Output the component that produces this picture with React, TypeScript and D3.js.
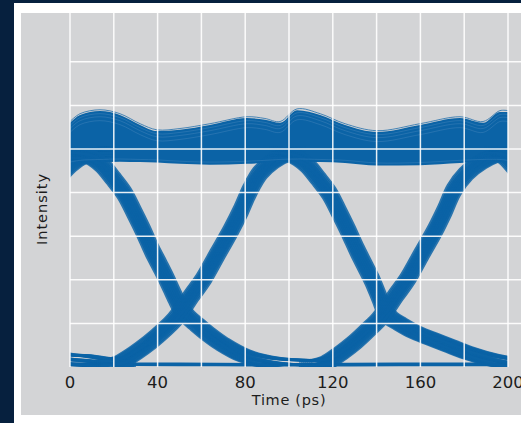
import * as d3 from "d3";
import React, { useEffect, useRef } from "react";

// axis
const timeTicks = [0, 20, 40, 60, 80, 100, 120, 140, 160, 180, 200];
const timeLabels = [0, 40, 80, 120, 160, 200];
const levelLines = [1, 2, 3, 4, 5, 6, 7];

// "1" level rail envelope (ps, grid units)
const railTime = [0, 4.6, 13.7, 22.8, 32, 39.7, 50.2, 63.9, 80.8, 89, 95.9, 103.7, 114.2, 125.6, 140.2, 159.8, 178.1, 188.6, 196.3, 200];
const railTop = [5.6, 5.78, 5.87, 5.78, 5.55, 5.41, 5.44, 5.55, 5.71, 5.67, 5.6, 5.89, 5.78, 5.55, 5.39, 5.55, 5.71, 5.6, 5.85, 5.85];
const railBottom = [4.64, 4.68, 4.7, 4.71, 4.7, 4.69, 4.66, 4.64, 4.66, 4.68, 4.7, 4.71, 4.7, 4.68, 4.62, 4.63, 4.68, 4.7, 4.7, 4.68];

// "0" level rail
const zeroRail = [[0, 0.07], [50, 0.06], [100, 0.05], [150, 0.06], [200, 0.06]];

// transition centre lines
const fall0 = [[-13.7, 0.39], [-6.8, 0.25], [0, 0.17], [6.8, 0.15], [13.7, 0.1], [20.5, 0.06], [27.4, 0.02]];
const rise0 = [[-10, 4.06], [-6.4, 4.29], [-3.2, 4.47], [0, 4.63], [4.6, 4.79], [11.4, 4.89], [18.3, 4.91]];
const fall1 = [[0, 4.91], [8.2, 4.84], [14.6, 4.63], [19.6, 4.33], [24.7, 3.99], [29.2, 3.56], [33.3, 3.14], [37.4, 2.68], [41.1, 2.32], [44.3, 2.0], [47.9, 1.61], [51.1, 1.31], [53.9, 1.15], [57.5, 0.99], [63, 0.76], [69.4, 0.53], [79.9, 0.25], [93.6, 0.09], [105, 0.05], [118.7, 0.02]];
const rise1 = [[11.4, 0.02], [18.3, 0.05], [22.8, 0.11], [29.7, 0.32], [36.5, 0.57], [43.4, 0.87], [47.9, 1.1], [51.1, 1.31], [55.7, 1.65], [60.7, 2.0], [67.1, 2.57], [73.5, 3.14], [78.1, 3.6], [82.2, 4.06], [86.8, 4.45], [92.2, 4.7], [98.2, 4.86], [105, 4.91]];
const fall2 = [[93.6, 4.91], [101.8, 4.84], [108.2, 4.63], [113.2, 4.33], [118.3, 3.99], [122.8, 3.56], [126.9, 3.14], [131.1, 2.68], [134.7, 2.32], [137.9, 2.0], [141.1, 1.61], [143.8, 1.28], [146.6, 1.12], [150.7, 0.99], [157.5, 0.8], [165.3, 0.64], [173.5, 0.48], [180.8, 0.34], [193.2, 0.16], [203.2, 0.07]];
const rise2 = [[107.3, 0.02], [113.2, 0.05], [117.4, 0.11], [123.7, 0.32], [130.1, 0.57], [136.5, 0.87], [141.1, 1.1], [144.3, 1.31], [148.9, 1.65], [153.9, 2.0], [160.3, 2.57], [166.7, 3.14], [171.2, 3.6], [175.3, 4.06], [180.8, 4.43], [187.2, 4.68], [193.6, 4.84], [200, 4.91], [206, 4.91]];
const fall3 = [[191.8, 4.91], [197.7, 4.84], [202.7, 4.59], [206.4, 4.33]];

// spread of the overlaid traces
const timeJitter = [-2.7, -1.8, -0.9, 0, 0.9, 1.8, 2.7];
const ampNoise = [-0.11, 0, 0.11];
const innerStreaks = [0.06, 0.13, 0.22];
const bottomStreaks = [0.06];

const BLUE = "#0b63a6";

export default function App() {
  const ref = useRef(null);

  useEffect(() => {
    const svg = d3.select(ref.current);
    svg.selectAll("*").remove();

    const x = d3.scaleLinear().domain([0, 200]).range([70, 508]);
    const y = d3.scaleLinear().domain([0, 7]).range([367, 61.8]);
    const plotTop = 13;

    // frame
    svg.append("rect").attr("width", 521).attr("height", 423).attr("fill", "#06203e");
    svg.append("rect").attr("x", 14).attr("y", 3).attr("width", 507).attr("height", 420).attr("fill", "#ffffff");
    svg.append("rect").attr("x", 21).attr("y", 13).attr("width", 500).attr("height", 402).attr("fill", "#d3d4d6");

    svg.append("defs").append("clipPath").attr("id", "plotClip")
      .append("rect")
      .attr("x", x(0)).attr("y", plotTop)
      .attr("width", x(200) - x(0)).attr("height", y(0) - plotTop);

    const g = svg.append("g").attr("clip-path", "url(#plotClip)");

    const line = d3.line().x(d => x(d[0])).y(d => y(d[1])).curve(d3.curveCatmullRom);

    // upper rail body
    const area = d3.area()
      .x((d, i) => x(railTime[i]))
      .y0((d, i) => y(railBottom[i]))
      .y1((d, i) => y(railTop[i]))
      .curve(d3.curveMonotoneX);
    g.append("path").attr("d", area(railTime)).attr("fill", BLUE);

    // lower rail
    g.append("path").attr("d", line(zeroRail)).attr("fill", "none")
      .attr("stroke", BLUE).attr("stroke-width", 3.6);

    // transitions, drawn as bundles of traces
    const edges = [fall0, rise0, fall1, rise1, fall2, rise2, fall3];
    edges.forEach(edge => {
      timeJitter.forEach(dt => {
        ampNoise.forEach(du => {
          g.append("path")
            .attr("d", line(edge.map(p => [p[0] + dt, p[1] + du])))
            .attr("fill", "none")
            .attr("stroke", BLUE)
            .attr("stroke-width", 2.6)
            .attr("stroke-opacity", 0.85);
        });
      });
    });

    // streaks in the upper rail
    const railPts = (vals, off) => railTime.map((t, i) => [t, vals[i] + off]);
    innerStreaks.forEach(off => {
      g.append("path").attr("d", line(railPts(railTop, -off))).attr("fill", "none")
        .attr("stroke", "#7aa7d2").attr("stroke-width", 0.6).attr("stroke-opacity", 0.4);
    });
    bottomStreaks.forEach(off => {
      g.append("path").attr("d", line(railPts(railBottom, off))).attr("fill", "none")
        .attr("stroke", "#7aa7d2").attr("stroke-width", 0.6).attr("stroke-opacity", 0.35);
    });
    g.append("path").attr("d", line(railPts(railTop, 0.03))).attr("fill", "none")
      .attr("stroke", BLUE).attr("stroke-width", 1).attr("stroke-opacity", 0.7);

    // grid on top of the traces
    const grid = svg.append("g").attr("stroke", "#ffffff").attr("stroke-width", 1.5).attr("stroke-opacity", 0.9);
    timeTicks.forEach(t => {
      grid.append("line").attr("x1", x(t)).attr("x2", x(t)).attr("y1", plotTop).attr("y2", y(0));
    });
    levelLines.forEach(v => {
      grid.append("line").attr("x1", x(0)).attr("x2", 521).attr("y1", y(v)).attr("y2", y(v));
    });

    // labels
    svg.append("g").selectAll("text").data(timeLabels).enter().append("text")
      .attr("x", d => x(d))
      .attr("y", 388)
      .attr("text-anchor", "middle")
      .attr("font-family", "DejaVu Sans, sans-serif")
      .attr("font-size", 16.5)
      .attr("fill", "#1c1c1c")
      .text(d => d);

    svg.append("text")
      .attr("x", (x(0) + x(200)) / 2)
      .attr("y", 404.5)
      .attr("text-anchor", "middle")
      .attr("font-family", "DejaVu Sans, sans-serif")
      .attr("font-size", 14.5)
      .attr("letter-spacing", 0.7)
      .attr("fill", "#1c1c1c")
      .text("Time (ps)");

    svg.append("text")
      .attr("transform", "translate(46.5,209) rotate(-90)")
      .attr("text-anchor", "middle")
      .attr("font-family", "DejaVu Sans, sans-serif")
      .attr("font-size", 14.5)
      .attr("letter-spacing", 1)
      .attr("fill", "#1c1c1c")
      .text("Intensity");
  }, []);

  return (
    <svg ref={ref} width={521} height={423}
      style={{ position: "absolute", left: 0, top: 0, display: "block" }} />
  );
}
